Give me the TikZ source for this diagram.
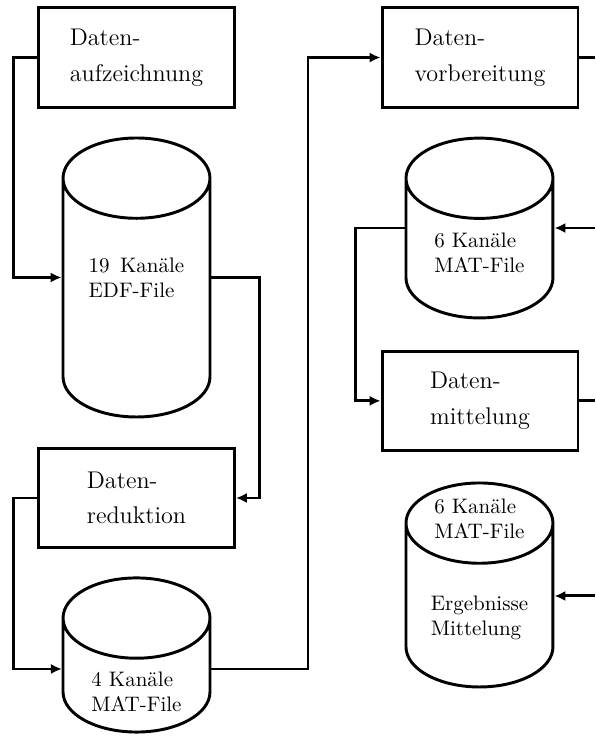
\documentclass[tikz,border=0pt]{standalone}
\usetikzlibrary{shapes.geometric,arrows.meta}

\begin{document}
\begin{tikzpicture}[
  box/.style={draw, line width=1.4pt, minimum width=3.28cm, minimum height=1.66cm,
    font=\fontsize{11.5pt}{17pt}\selectfont, align=left},
  db/.style={draw, line width=1.4pt, cylinder, shape border rotate=90, aspect=0.56,
    inner xsep=1.2cm, inner ysep=2pt, minimum width=2.46cm, anchor=shape center},
  dbtext/.style={align=left, inner sep=0pt},
  link/.style={line width=1.4pt},
  arr/.style={link, -{Latex[length=5.2pt,width=4.8pt]}}
]
  \useasboundingbox (0,0) rectangle (9.96,12.32);
  \coordinate (edge) at (9.96,0);
  \coordinate (bus) at (5.156,0);

  % left column
  \node[box] (aufz) at (2.285,11.357) {Daten-\\aufzeichnung};
  \node[db, minimum height=4.67cm] (edf) at (2.285,7.675) {};
  \node[box] (red) at (2.285,3.984) {Daten-\\reduktion};
  \node[db, minimum height=2.58cm] (mat4) at (2.285,1.356) {};

  % right column
  \node[box] (vorb) at (8.035,11.357) {Daten-\\vorbereitung};
  \node[db, minimum height=3.01cm] (mat6) at (8.026,8.503) {};
  \node[box] (mitt) at (8.035,5.61) {Daten-\\mittelung};
  \node[db, minimum height=3.415cm] (erg) at (8.026,2.528) {};

  % texts in the cylinders
  \node[dbtext] (edftxt) at (edf.shape center) {19~\,Kan\"ale\\EDF-File};
  \node[dbtext] (mat4txt) at (2.285,0.742) {4 Kan\"ale\\MAT-File};
  \node[dbtext] (mat6txt) at (8.026,8.082) {6 Kan\"ale\\MAT-File};
  \node[dbtext] (ergtop) at (8.026,3.632) {6 Kan\"ale\\MAT-File};
  \node[dbtext] (ergtxt) at (8.026,1.975) {Ergebnisse\\Mittelung};

  % side points of the cylinders
  \coordinate (edfin) at (edf.shape center -| edf.west);
  \coordinate (edfout) at (edf.shape center -| edf.east);
  \coordinate (mat4in) at ([yshift=-2.34mm]mat4.shape center -| mat4.west);
  \coordinate (mat4out) at (mat4in -| mat4.east);
  \coordinate (mat6in) at (mat6.shape center -| mat6.east);
  \coordinate (mat6out) at (mat6.shape center -| mat6.west);
  \coordinate (ergin) at ([yshift=-1.84mm]erg.shape center -| erg.east);

  % connectors
  \draw[arr] (aufz.west) -- ++(-0.402,0) |- (edfin);
  \draw[arr] (edfout) -- ++(0.804,0) |- (red.east);
  \draw[arr] (red.west) -- ++(-0.402,0) |- (mat4in);
  \draw[arr] (mat4out) -| (bus |- vorb.west) -- (vorb.west);
  \draw[link] (vorb.east) -- (vorb.east -| edge);
  \draw[arr] (mat6in -| edge) -- (mat6in);
  \draw[arr] (mat6out) -- ++(-0.82,0) |- (mitt.west);
  \draw[link] (mitt.east) -- (mitt.east -| edge);
  \draw[arr] (ergin -| edge) -- (ergin);
\end{tikzpicture}
\end{document}
